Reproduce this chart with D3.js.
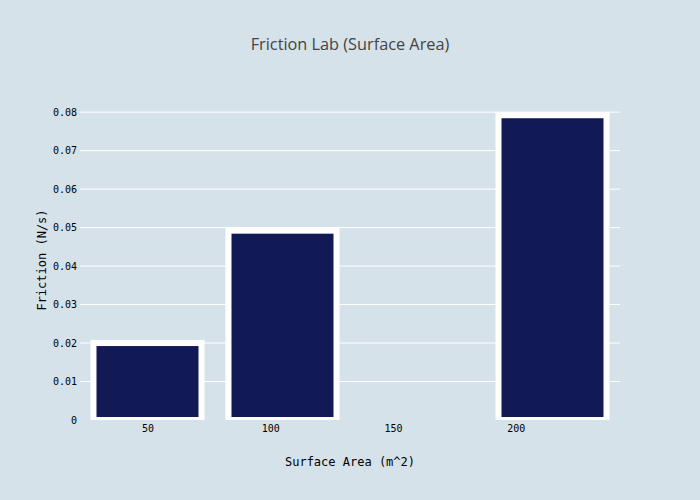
<!DOCTYPE html>
<html>
<head>
<meta charset="utf-8">
<script src="https://cdn.jsdelivr.net/npm/d3@7"></script>
<style>
  body { margin: 0; background: #d6e2ea; }
  svg { display: block; }
</style>
</head>
<body>
<div id="chart"></div>
<script>
// chart data
var areas    = [50, 105, 215];            // surface area (m^2)
var friction = [0.0200, 0.0492, 0.0792];  // friction (N/s)
var xTicks   = [50, 100, 150, 200];
var yTicks   = [0, 0.01, 0.02, 0.03, 0.04, 0.05, 0.06, 0.07, 0.08];

var width = 700, height = 500;
var margin = {top: 100, right: 80, bottom: 80, left: 80};
var bg = '#d6e2ea', barColor = '#121a56';
var mono = '"DejaVu Sans Mono", monospace';

var svg = d3.select('#chart').append('svg')
    .attr('width', width)
    .attr('height', height)
    .style('background', bg);

svg.append('rect')
    .attr('width', width).attr('height', height)
    .attr('fill', bg);

// bar width = 80% of smallest spacing between bars
var minGap = d3.min(d3.pairs(areas), function(p){ return p[1] - p[0]; });
var barW = minGap * 0.8;

var x = d3.scaleLinear()
    .domain([areas[0] - minGap / 2, areas[areas.length - 1] + minGap / 2])
    .range([margin.left, width - margin.right]);

var y = d3.scaleLinear()
    .domain([0, d3.max(friction) * 1.05])
    .range([height - margin.bottom, margin.top]);

// grid lines
svg.append('g')
    .selectAll('line')
    .data(yTicks.filter(function(d){ return d > 0; }))
    .enter().append('line')
    .attr('x1', margin.left).attr('x2', width - margin.right)
    .attr('y1', function(d){ return y(d); })
    .attr('y2', function(d){ return y(d); })
    .attr('stroke', '#fff')
    .attr('stroke-width', 1);

// clip to plot area
svg.append('clipPath').attr('id', 'plotclip')
    .append('rect')
    .attr('x', margin.left).attr('y', margin.top)
    .attr('width', width - margin.left - margin.right)
    .attr('height', height - margin.top - margin.bottom);

svg.append('g')
    .attr('clip-path', 'url(#plotclip)')
    .selectAll('rect')
    .data(areas)
    .enter().append('rect')
    .attr('x', function(d){ return x(d - barW / 2); })
    .attr('width', function(d){ return x(d + barW / 2) - x(d - barW / 2); })
    .attr('y', function(d, i){ return y(friction[i]); })
    .attr('height', function(d, i){ return y(0) - y(friction[i]); })
    .attr('fill', barColor)
    .attr('stroke', '#fff')
    .attr('stroke-width', 6);

// y axis
var yAxis = svg.append('g')
    .attr('transform', 'translate(' + (margin.left - 3) + ',0)')
    .call(d3.axisLeft(y).tickValues(yTicks).tickSize(0).tickPadding(0)
        .tickFormat(function(d){ return d === 0 ? '0' : d3.format('.2f')(d); }));
yAxis.select('.domain').remove();
yAxis.selectAll('text')
    .style('font-family', mono)
    .style('font-size', '10px')
    .attr('fill', '#000');

// x axis
var xAxis = svg.append('g')
    .attr('transform', 'translate(0,' + (height - margin.bottom + 5) + ')')
    .call(d3.axisBottom(x).tickValues(xTicks).tickSize(0).tickPadding(0));
xAxis.select('.domain').remove();
xAxis.selectAll('text')
    .style('font-family', mono)
    .style('font-size', '10px')
    .attr('fill', '#000');

// titles
svg.append('text')
    .attr('x', width / 2).attr('y', 50)
    .attr('text-anchor', 'middle')
    .style('font-family', '"Open Sans", sans-serif')
    .style('font-size', '16.3px')
    .attr('fill', '#444')
    .text('Friction Lab (Surface Area)');

svg.append('text')
    .attr('x', (margin.left + width - margin.right) / 2).attr('y', 466)
    .attr('text-anchor', 'middle')
    .style('font-family', mono)
    .style('font-size', '12px')
    .attr('fill', '#000')
    .text('Surface Area (m^2)');

svg.append('text')
    .attr('transform', 'translate(46,' + ((margin.top + height - margin.bottom) / 2) + ') rotate(-90)')
    .attr('text-anchor', 'middle')
    .style('font-family', mono)
    .style('font-size', '12px')
    .attr('fill', '#000')
    .text('Friction (N/s)');
</script>
</body>
</html>
